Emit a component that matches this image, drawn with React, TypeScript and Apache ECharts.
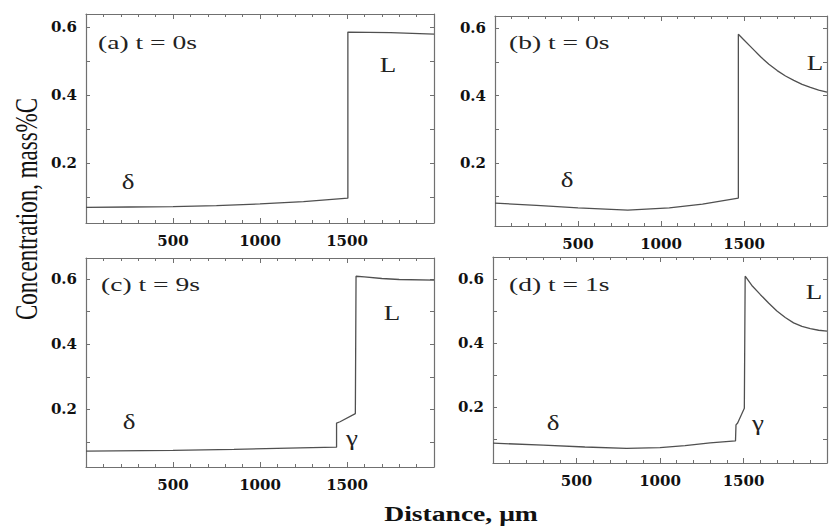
import React, { useEffect, useRef } from "react";
import * as echarts from "echarts";

// Panel (a) t = 0s
const distA = [0, 250, 500, 750, 1000, 1250, 1505, 1505, 1750, 2000];
const concA = [0.07, 0.071, 0.072, 0.075, 0.08, 0.087, 0.097, 0.585, 0.583, 0.579];
// Panel (b) t = 0s
const distB = [0, 250, 500, 800, 1050, 1250, 1466, 1466, 1500, 1550, 1600, 1650, 1700, 1750, 1800, 1850, 1900, 1950, 2000];
const concB = [0.081, 0.074, 0.067, 0.06, 0.067, 0.078, 0.096, 0.582, 0.565, 0.54, 0.515, 0.493, 0.474, 0.458, 0.445, 0.433, 0.424, 0.416, 0.41];
// Panel (c) t = 9s
const distC = [0, 500, 850, 1230, 1440, 1440, 1460, 1548, 1552, 1600, 1700, 1800, 2000];
const concC = [0.072, 0.074, 0.077, 0.082, 0.084, 0.158, 0.162, 0.187, 0.609, 0.607, 0.602, 0.599, 0.597];
// Panel (d) t = 1s
const distD = [0, 300, 550, 800, 1000, 1150, 1300, 1452, 1455, 1465, 1505, 1510, 1550, 1600, 1650, 1700, 1750, 1800, 1850, 1900, 1950, 2000];
const concD = [0.087, 0.081, 0.075, 0.071, 0.073, 0.079, 0.088, 0.094, 0.144, 0.15, 0.196, 0.609, 0.58, 0.552, 0.525, 0.5, 0.48, 0.463, 0.452, 0.445, 0.44, 0.437];

const panelTitles = ["(a) t = 0s", "(b) t = 0s", "(c) t = 9s", "(d) t = 1s"];
const xLabelValues = [500, 1000, 1500];
const yTickValues = [0.1, 0.2, 0.3, 0.4, 0.5, 0.6];
const yLabelValues = [0.2, 0.4, 0.6];
const xExtent = [0, 2000];
const yExtents = [
  [0.024, 0.638],
  [0.013, 0.636],
  [0.023, 0.665],
  [0.025, 0.669],
];

const FRAME = "#707070";
const LINE = "#505050";
const SERIF = '"Liberation Serif", "Times New Roman", serif';
const LABEL_FONT = '"DejaVu Serif", serif';

const grids = [
  { left: 86, top: 14, width: 348, height: 209 },
  { left: 495, top: 16, width: 348, height: 210 },
  { left: 86, top: 258, width: 348, height: 209 },
  { left: 493, top: 257, width: 348, height: 206 },
];

const panelData = [
  [distA, concA],
  [distB, concB],
  [distC, concC],
  [distD, concD],
];

function buildOption() {
  const xAxis: any[] = [];
  const yAxis: any[] = [];
  const series: any[] = [];
  panelData.forEach(([xs, ys], i) => {
    const common = {
      gridIndex: i,
      type: "value",
      splitLine: { show: false },
      axisLine: { show: true, onZero: false, lineStyle: { color: FRAME, width: 1.2 } },
    };
    xAxis.push({
      ...common,
      position: "bottom",
      min: xExtent[0],
      max: xExtent[1],
      interval: 500,
      axisTick: { show: true, inside: true, length: 5, lineStyle: { color: FRAME } },
      minorTick: { show: true, splitNumber: 5, length: 3, lineStyle: { color: FRAME } },
      axisLabel: {
        show: true,
        margin: 10,
        color: "#111",
        fontFamily: LABEL_FONT,
        fontWeight: "bold",
        fontSize: 15,
        formatter: (v: number) => (xLabelValues.includes(v) ? String(v) : ""),
      },
    });
    xAxis.push({
      ...common,
      position: "top",
      min: xExtent[0],
      max: xExtent[1],
      interval: 500,
      axisTick: { show: true, inside: true, length: 5, lineStyle: { color: FRAME } },
      minorTick: { show: true, splitNumber: 5, length: 3, lineStyle: { color: FRAME } },
      axisLabel: { show: false },
    });
    yAxis.push({
      ...common,
      position: "left",
      min: yExtents[i][0],
      max: yExtents[i][1],
      axisTick: { show: true, inside: true, length: 4, customValues: yTickValues, lineStyle: { color: FRAME } },
      axisLabel: {
        show: true,
        margin: 9,
        customValues: yLabelValues,
        color: "#111",
        fontFamily: LABEL_FONT,
        fontWeight: "bold",
        fontSize: 15,
        formatter: (v: number) => v.toFixed(1),
      },
    });
    yAxis.push({
      ...common,
      position: "right",
      min: yExtents[i][0],
      max: yExtents[i][1],
      axisTick: { show: true, inside: true, length: 4, customValues: yTickValues, lineStyle: { color: FRAME } },
      axisLabel: { show: false },
    });
    series.push({
      type: "line",
      xAxisIndex: 2 * i,
      yAxisIndex: 2 * i,
      data: xs.map((x, k) => [x, ys[k]]),
      showSymbol: false,
      symbol: "none",
      silent: true,
      lineStyle: { color: LINE, width: 1.3 },
    });
  });

  const annot = (text: string, x: number, y: number, size = 20, align = "center", sx = 1.35) => ({
    type: "text",
    x,
    y,
    scaleX: sx,
    silent: true,
    style: {
      text,
      fill: "#222",
      font: `${size}px ${SERIF}`,
      align,
      verticalAlign: "middle",
    },
  });

  const graphic: any[] = [
    annot(panelTitles[0], 98, 43, 19, "left", 1.45),
    annot(panelTitles[1], 509, 43, 19, "left", 1.45),
    annot(panelTitles[2], 101, 285, 19, "left", 1.45),
    annot(panelTitles[3], 509, 285, 19, "left", 1.45),
    annot("L", 388, 65),
    annot("L", 815, 63),
    annot("L", 392, 313),
    annot("L", 814, 292),
    annot("δ", 128, 182),
    annot("δ", 567, 180),
    annot("δ", 129, 422),
    annot("δ", 553, 423),
    annot("γ", 352, 438),
    annot("γ", 758, 423),
    {
      type: "text",
      x: 26,
      y: 209,
      rotation: Math.PI / 2,
      scaleY: 1.4,
      silent: true,
      style: {
        text: "Concentration, mass%C",
        fill: "#111",
        font: `23px ${SERIF}`,
        align: "center",
        verticalAlign: "middle",
      },
    },
    {
      type: "text",
      x: 461,
      y: 514,
      scaleX: 1.38,
      silent: true,
      style: {
        text: "Distance, μm",
        fill: "#111",
        font: `bold 20px ${SERIF}`,
        align: "center",
        verticalAlign: "middle",
      },
    },
  ];

  return {
    animation: false,
    backgroundColor: "#ffffff",
    grid: grids,
    xAxis,
    yAxis,
    series,
    graphic,
  };
}

export default function App() {
  const ref = useRef<HTMLDivElement>(null);
  useEffect(() => {
    if (!ref.current) return;
    const chart = echarts.init(ref.current, undefined, { renderer: "svg" });
    chart.setOption(buildOption() as any);
    return () => chart.dispose();
  }, []);
  return (
    <div
      ref={ref}
      style={{ position: "fixed", left: 0, top: 0, width: 830, height: 529, background: "#fff" }}
    />
  );
}
